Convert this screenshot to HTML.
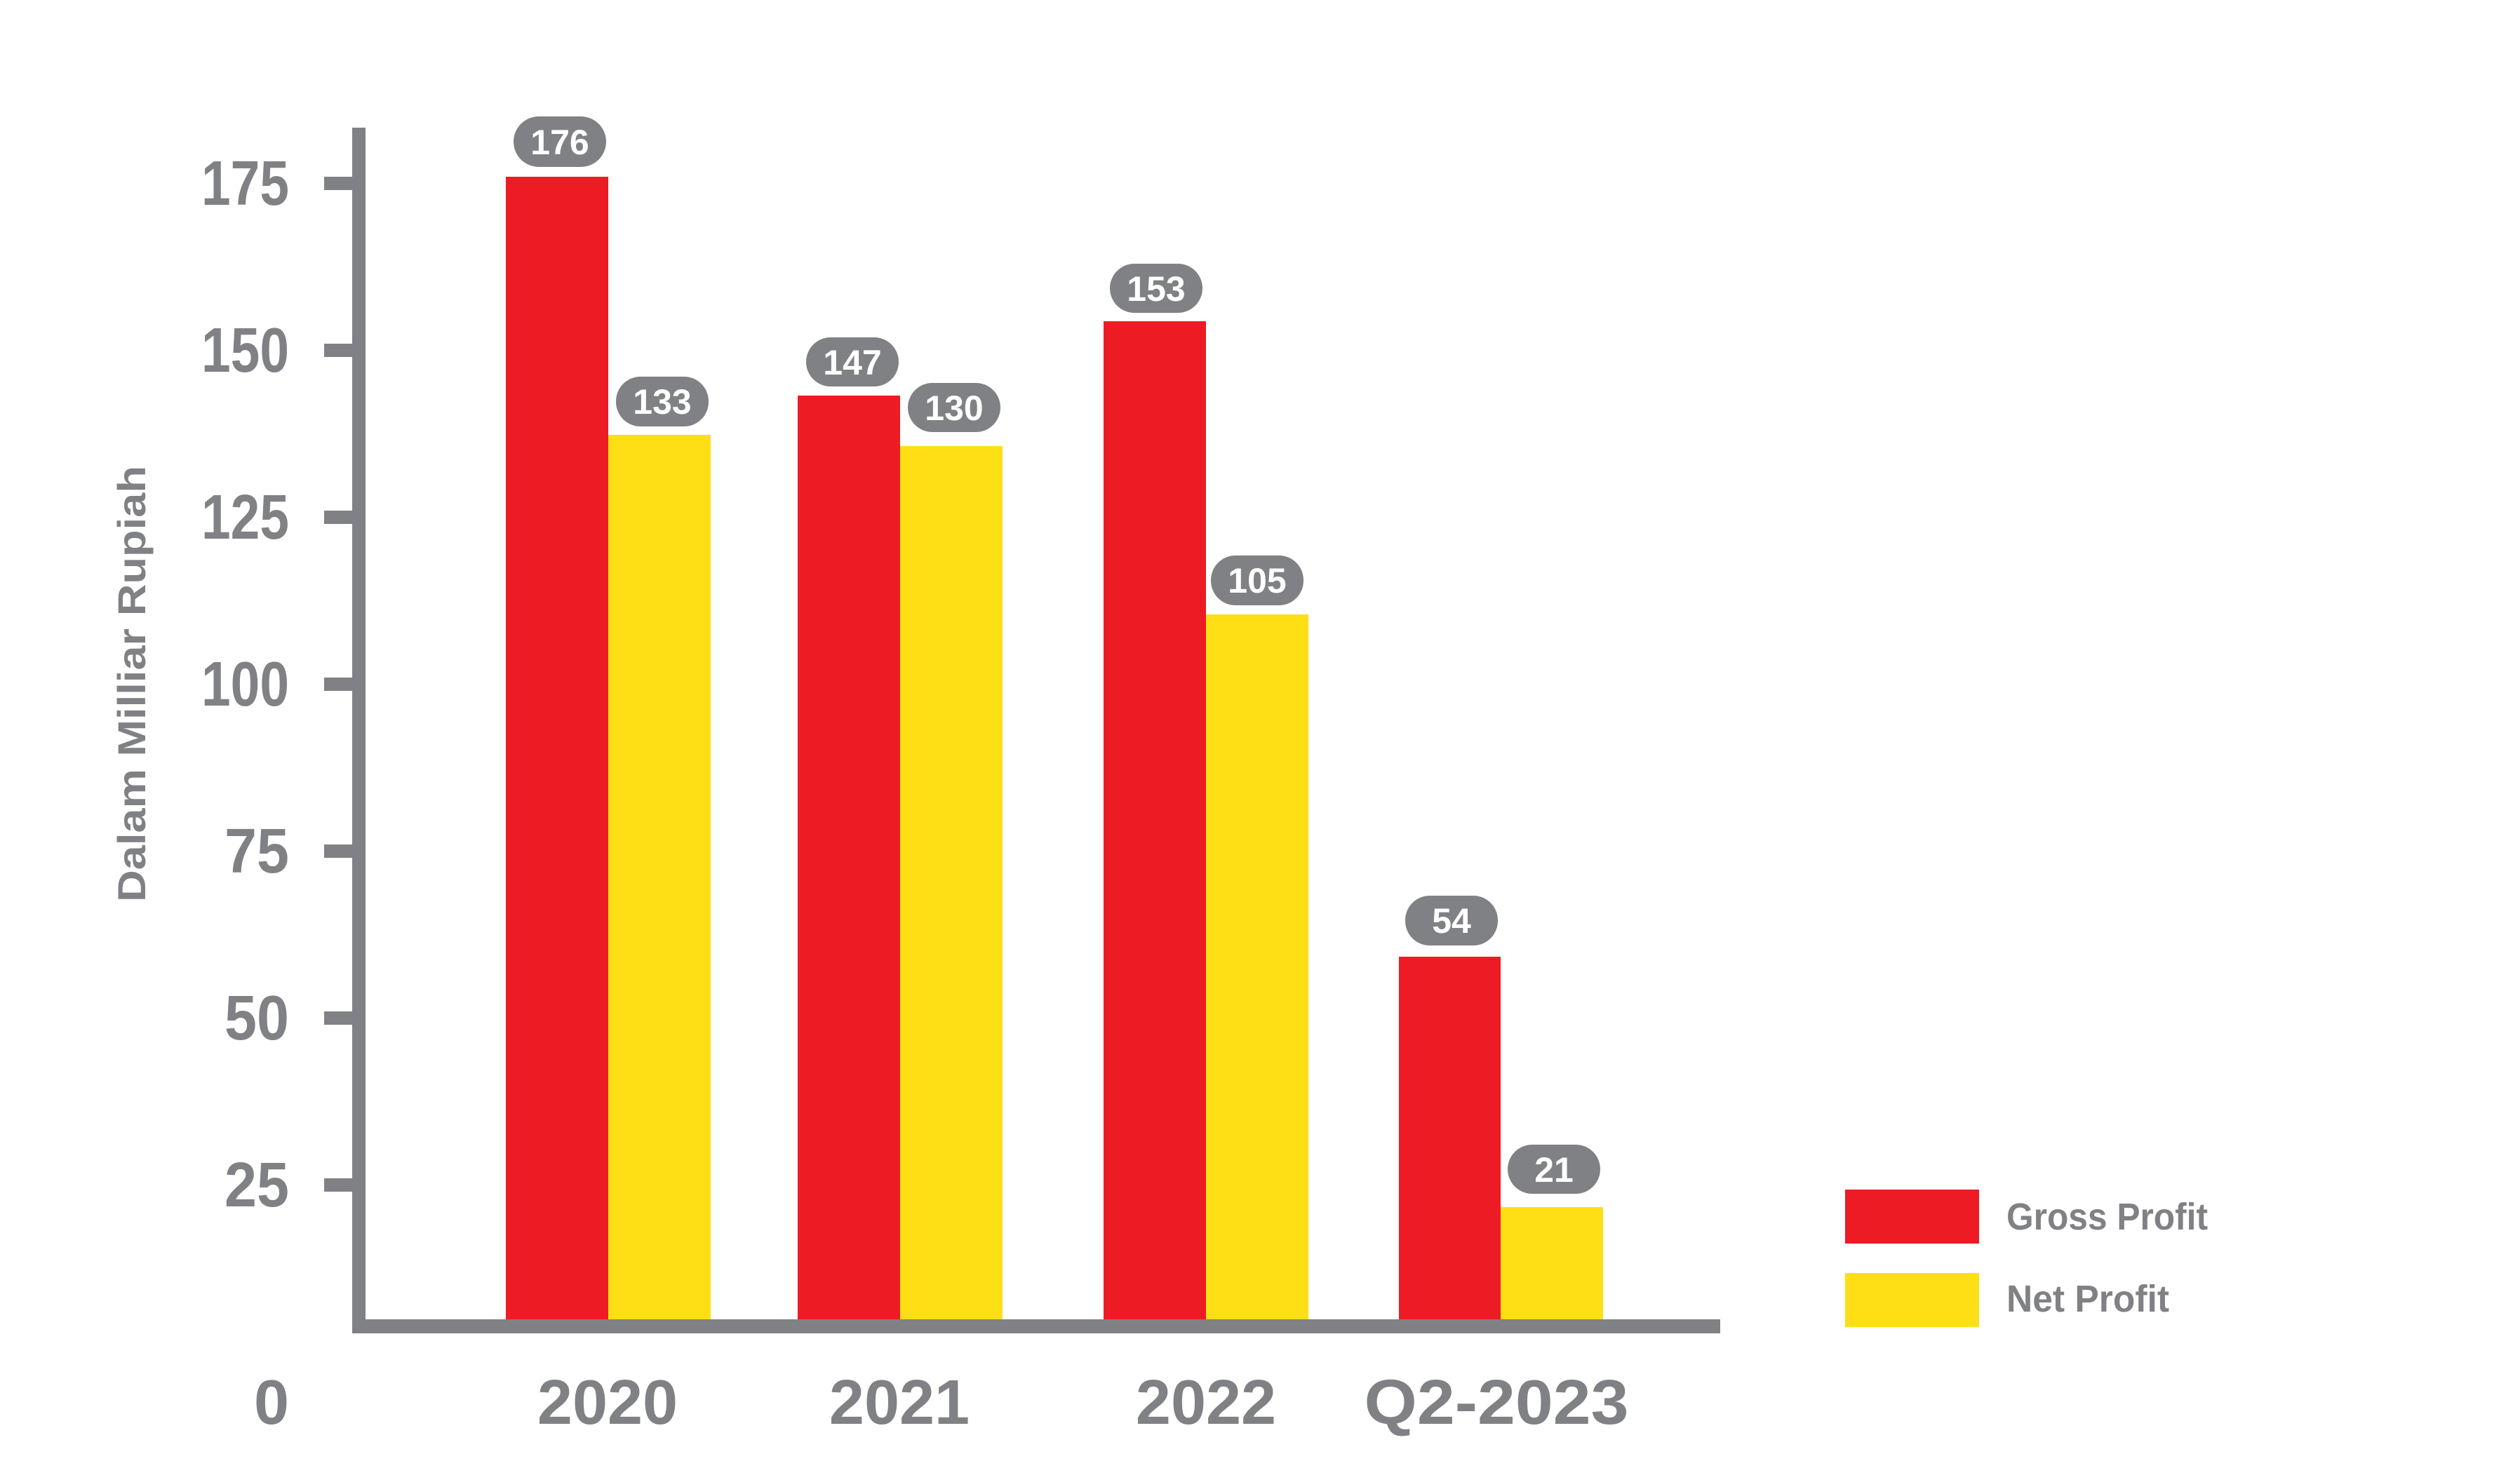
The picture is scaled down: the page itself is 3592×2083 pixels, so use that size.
<!DOCTYPE html>
<html><head><meta charset="utf-8"><style>
html,body{margin:0;padding:0;background:#fff;}
svg{display:block;}
text{font-family:"Liberation Sans",sans-serif;font-weight:bold;}
</style></head><body>
<svg width="3592" height="2083" viewBox="0 0 3592 2083" xmlns="http://www.w3.org/2000/svg">
<rect width="3592" height="2083" fill="#fff"/>
<g>
<rect x="721" y="252" width="146" height="1630" fill="#ED1C24"/>
<rect x="867" y="620" width="146" height="1262" fill="#FEDF16"/>
<rect x="1137" y="564" width="146" height="1318" fill="#ED1C24"/>
<rect x="1283" y="636" width="146" height="1246" fill="#FEDF16"/>
<rect x="1573" y="458" width="146" height="1424" fill="#ED1C24"/>
<rect x="1719" y="876" width="146" height="1006" fill="#FEDF16"/>
<rect x="1994" y="1364" width="145" height="518" fill="#ED1C24"/>
<rect x="2139" y="1721" width="146" height="161" fill="#FEDF16"/>
</g>
<g fill="#808184">
<rect x="502" y="182" width="19" height="1719"/>
<rect x="502" y="1881" width="1950" height="20"/>
<rect x="462" y="252" width="40" height="19"/>
<rect x="462" y="490" width="40" height="19"/>
<rect x="462" y="728" width="40" height="19"/>
<rect x="462" y="966" width="40" height="19"/>
<rect x="462" y="1204" width="40" height="19"/>
<rect x="462" y="1442" width="40" height="19"/>
<rect x="462" y="1680" width="40" height="19"/>
</g>
<g fill="#808184" font-size="90" text-anchor="end">
<text x="412" y="292" textLength="125" lengthAdjust="spacingAndGlyphs">175</text>
<text x="412" y="530" textLength="125" lengthAdjust="spacingAndGlyphs">150</text>
<text x="412" y="768" textLength="125" lengthAdjust="spacingAndGlyphs">125</text>
<text x="412" y="1006" textLength="125" lengthAdjust="spacingAndGlyphs">100</text>
<text x="412" y="1244" textLength="92" lengthAdjust="spacingAndGlyphs">75</text>
<text x="412" y="1482" textLength="92" lengthAdjust="spacingAndGlyphs">50</text>
<text x="412" y="1720" textLength="92" lengthAdjust="spacingAndGlyphs">25</text>
<text x="412" y="2030">0</text>
</g>
<g fill="#808184" font-size="90" text-anchor="middle">
<text x="866" y="2030">2020</text>
<text x="1282" y="2030">2021</text>
<text x="1719" y="2030">2022</text>
<text x="2133" y="2030" textLength="377" lengthAdjust="spacingAndGlyphs">Q2-2023</text>
</g>
<text transform="translate(207,975) rotate(-90)" fill="#808184" font-size="56" text-anchor="middle" textLength="622" lengthAdjust="spacingAndGlyphs">Dalam Milliar Rupiah</text>
<g fill="#808184">
<rect x="732" y="166" width="132" height="72" rx="36"/>
<rect x="878" y="537" width="132" height="71" rx="35"/>
<rect x="1149" y="481" width="132" height="70" rx="35"/>
<rect x="1294" y="546" width="132" height="70" rx="35"/>
<rect x="1582" y="376" width="132" height="70" rx="35"/>
<rect x="1726" y="792" width="132" height="71" rx="35"/>
<rect x="2003" y="1277" width="132" height="71" rx="35"/>
<rect x="2149" y="1632" width="132" height="70" rx="35"/>
</g>
<g fill="#fff" font-size="50" text-anchor="middle">
<text x="798" y="220">176</text>
<text x="944" y="590">133</text>
<text x="1215" y="534">147</text>
<text x="1360" y="599">130</text>
<text x="1648" y="429">153</text>
<text x="1792" y="845">105</text>
<text x="2069" y="1330">54</text>
<text x="2215" y="1685">21</text>
</g>
<rect x="2630" y="1696" width="191" height="77" fill="#ED1C24"/>
<rect x="2630" y="1815" width="191" height="77" fill="#FEDF16"/>
<g fill="#808184" font-size="54">
<text x="2860" y="1753" textLength="287" lengthAdjust="spacingAndGlyphs">Gross Profit</text>
<text x="2860" y="1870" textLength="232" lengthAdjust="spacingAndGlyphs">Net Profit</text>
</g>
</svg>
</body></html>
